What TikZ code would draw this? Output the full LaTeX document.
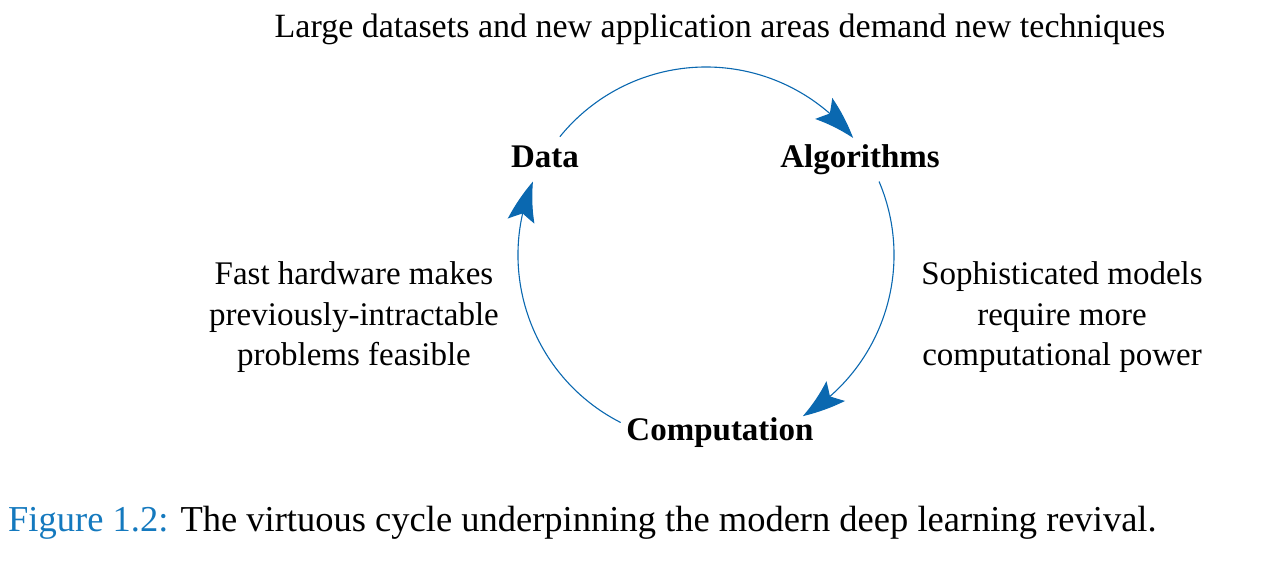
\documentclass[tikz,border=0pt]{standalone}
\usepackage{fontspec}
\setmainfont{Liberation Serif}
\usetikzlibrary{arrows.meta,calc,bending}
\definecolor{cycblue}{HTML}{0A68B0}
\definecolor{figblue}{HTML}{1479BE}
\tikzset{
  lbl/.style={font=\fontsize{33}{40.5}\selectfont, inner sep=0pt, anchor=base, align=center},
  hub/.style={font=\fontsize{33}{40.5}\selectfont\bfseries, inner sep=0pt, anchor=base},
  cyc/.style={draw=cycblue, line width=1.1pt,
    -{Stealth[length=42pt,width=27pt,inset=8pt,bend]}, fill=none},
}
\begin{document}
\begin{tikzpicture}[x=1pt,y=1pt]
\useasboundingbox (0,0) rectangle (1265,581);
\coordinate (C) at (706,326);
% labels
\node[lbl, font=\fontsize{34}{40.5}\selectfont] (top) at (720,581-38) {Large datasets and new application areas demand new techniques};
\node[hub] (data) at (545,581-168) {Data};
\node[hub] (alg) at (860,581-168) {Algorithms};
\node[hub] (comp) at (720,581-441) {Computation};
\node[lbl] (left) at (354,581-366) {Fast hardware makes\\previously-intractable\\problems feasible};
\node[lbl] (right) at (1062,581-366) {Sophisticated models\\require more\\computational power};
\node[lbl, font=\fontsize{36.5}{40.5}\selectfont, anchor=base west, align=left] (cap) at (8,581-531) {\textcolor{figblue}{Figure 1.2:} The virtuous cycle underpinning the modern deep learning revival.};
% cycle arcs
\coordinate (s1) at ($(C)+(141:188)$);
\coordinate (s2) at ($(C)+(23:188)$);
\coordinate (s3) at ($(C)+(243:188)$);
\draw[cyc] (s1) arc[start angle=141, end angle=38.5, radius=188];
\draw[cyc] (s2) arc[start angle=23, end angle=-59, radius=188];
\draw[cyc] (s3) arc[start angle=243, end angle=157, radius=188];
\end{tikzpicture}
\end{document}
